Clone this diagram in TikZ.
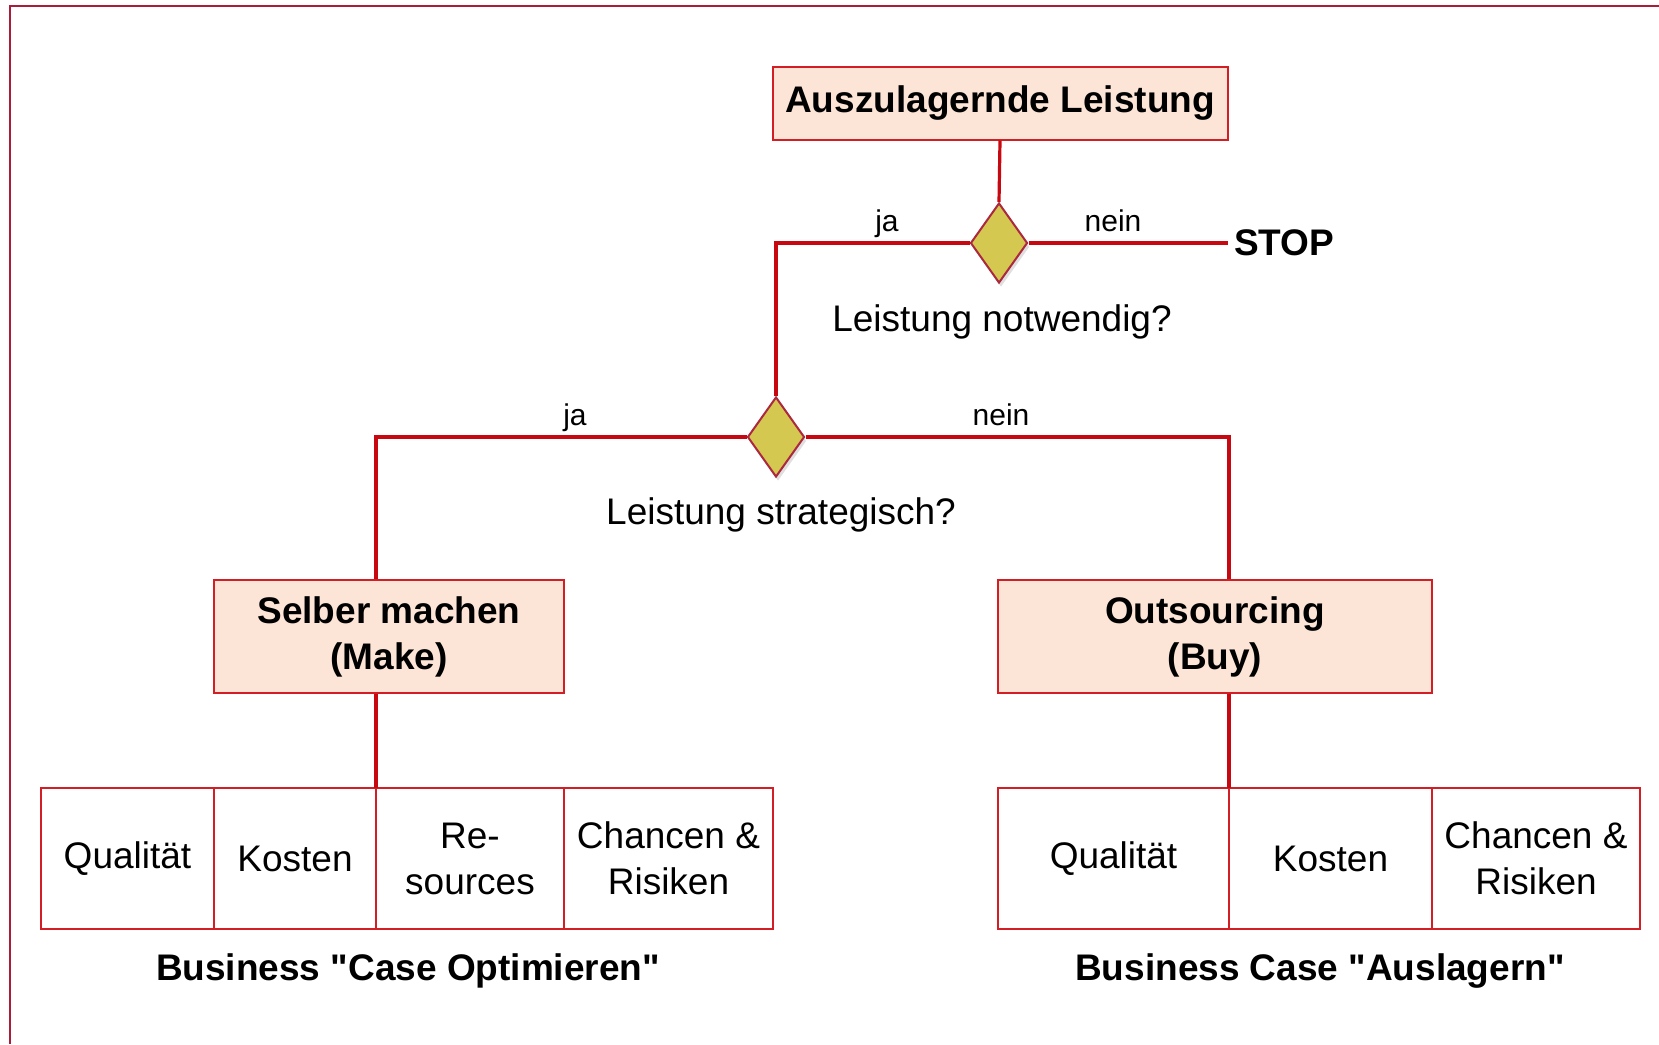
\documentclass[tikz,border=0pt]{standalone}
\usepackage{fontspec}
\setmainfont{Liberation Sans}[Ligatures=TeXOff]
\usepackage{tikz}
\usetikzlibrary{positioning, shapes.geometric, shadows}

\definecolor{linered}{RGB}{200,8,16}
\definecolor{boxred}{RGB}{210,30,36}
\definecolor{framered}{RGB}{170,28,58}
\definecolor{peach}{RGB}{252,228,214}
\definecolor{diafill}{RGB}{212,200,80}
\definecolor{diaborder}{RGB}{172,40,62}

\begin{document}
\begin{tikzpicture}[
        x=1pt, y=-1pt,
        font=\fontsize{37}{46}\selectfont,
        task/.style={
            rectangle,
            draw=boxred,
            line width=2pt,
            fill=peach,
            align=center,
            font=\fontsize{37}{46}\selectfont\bfseries
        },
        cell/.style={
            rectangle,
            draw=boxred,
            line width=2pt,
            minimum height=141pt,
            inner sep=0pt,
            outer sep=0pt,
            align=center
        },
        decision/.style={
            diamond,
            draw=diaborder,
            fill=diafill,
            line width=2pt,
            minimum width=57pt,
            minimum height=80pt,
            inner sep=0pt,
            drop shadow={shadow xshift=2pt, shadow yshift=-4pt, opacity=0.25}
        },
        answer/.style={font=\fontsize{30}{36}\selectfont, anchor=base},
        question/.style={anchor=base},
        caption/.style={font=\fontsize{37}{46}\selectfont\bfseries},
        link/.style={draw=linered, line width=3.2pt}
    ]
    \useasboundingbox (0,0) rectangle (1659,1044);
    \draw[framered, line width=2.5pt] (10,1044) -- (10,6) -- (1659,6);

    % Entscheidungsbaum
    \node[task, minimum width=455pt, minimum height=73pt] (leistung) at (1000,103) {Auszulagernde Leistung};
    \node[decision] (notw) at (999,243) {};
    \node[decision] (strat) at (776,437) {};
    \node[font=\fontsize{37}{46}\selectfont\bfseries, anchor=west, inner xsep=6pt, inner ysep=0pt, outer sep=0pt] (stop) at (1228,243) {STOP};
    \node[question] (qnotw) at (1002,331) {Leistung notwendig?};
    \node[question] (qstrat) at (781,524) {Leistung strategisch?};
    \node[answer] at (887,231) {ja};
    \node[answer] at (1113,231) {nein};
    \node[answer] at (575,425) {ja};
    \node[answer] at (1001,425) {nein};

    \node[task, minimum width=350pt, minimum height=113pt] (make) at (389,636.5) {Selber machen\\(Make)};
    \node[task, minimum width=434pt, minimum height=113pt] (buy) at (1215,636.5) {Outsourcing\\(Buy)};

    % Business Case links
    \node[cell, minimum width=173pt, anchor=west] (lq) at (41,858.5) {Qualität};
    \node[cell, minimum width=162pt, right=0pt of lq] (lk) {Kosten};
    \node[cell, minimum width=188pt, right=0pt of lk] (lr) {Re-\\sources};
    \node[cell, minimum width=209pt, right=0pt of lr] (lc) {Chancen \&\\Risiken};

    % Business Case rechts
    \node[cell, minimum width=231pt, anchor=west] (rq) at (998,858.5) {Qualität};
    \node[cell, minimum width=203pt, right=0pt of rq] (rk) {Kosten};
    \node[cell, minimum width=208pt, right=0pt of rk] (rc) {Chancen \&\\Risiken};

    \node[caption] (capl) at (408,971) {Business "Case Optimieren"};
    \node[caption] (capr) at (1320,971) {Business Case "Auslagern"};

    \draw[link] (leistung.south) -- (notw.north);
    \draw[link] (notw.east) -- (stop.west);
    \draw[link] (notw.west) -| (strat.north);
    \draw[link] (strat.west) -| (make.north -| lk.east);
    \draw[link] (strat.east) -| (buy.north -| rq.east);
    \draw[link] (make.south -| lk.east) -- (lk.north east);
    \draw[link] (buy.south -| rq.east) -- (rq.north east);
\end{tikzpicture}
\end{document}
